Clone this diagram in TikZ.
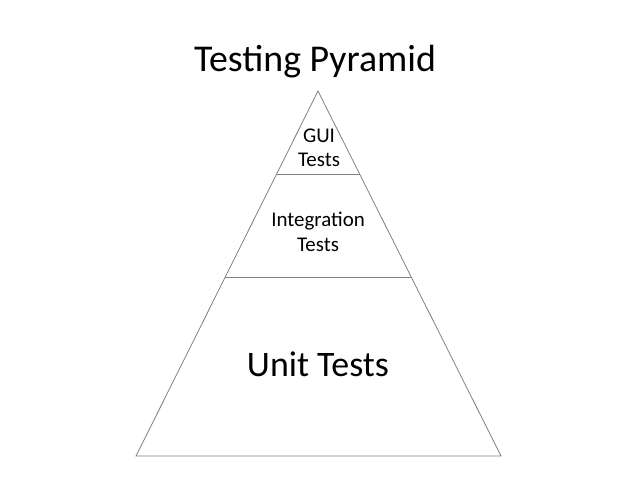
\documentclass[tikz,border=0pt]{standalone}
\usepackage{fontspec}
\setmainfont{Carlito}
\usetikzlibrary{calc}

\begin{document}
\begin{tikzpicture}[
    x=1bp, y=-1bp,
    edge/.style={draw=black!50, line width=0.8bp},
    label/.style={align=center, text=black, inner sep=0pt},
    title/.style={font=\fontsize{38}{46}\selectfont, inner sep=0pt}
]
\useasboundingbox (0,0) rectangle (638,479);

% Title
\node[title] (title) at (315,62) {Testing Pyramid};

% Pyramid outline
\coordinate (apex) at (318,91);
\coordinate (bl) at (136,456);
\coordinate (br) at (501,456);
\draw[edge] (apex) -- (bl) -- (br) -- cycle;

% Layer dividers
\coordinate (gl) at ($(apex)!0.2274!(bl)$);
\coordinate (gr) at ($(apex)!0.2274!(br)$);
\coordinate (il) at ($(apex)!0.5096!(bl)$);
\coordinate (ir) at ($(apex)!0.5096!(br)$);
\draw[edge] (gl) -- (gr);
\draw[edge] (il) -- (ir);

% Layers
\node[label, font=\fontsize{21}{24}\selectfont] (gui) at (319,148) {GUI\\Tests};
\node[label, font=\fontsize{21}{25}\selectfont] (integration) at (318,232) {Integration\\Tests};
\node[label, font=\fontsize{36}{43}\selectfont] (unit) at (318,364) {Unit Tests};

\end{tikzpicture}
\end{document}
